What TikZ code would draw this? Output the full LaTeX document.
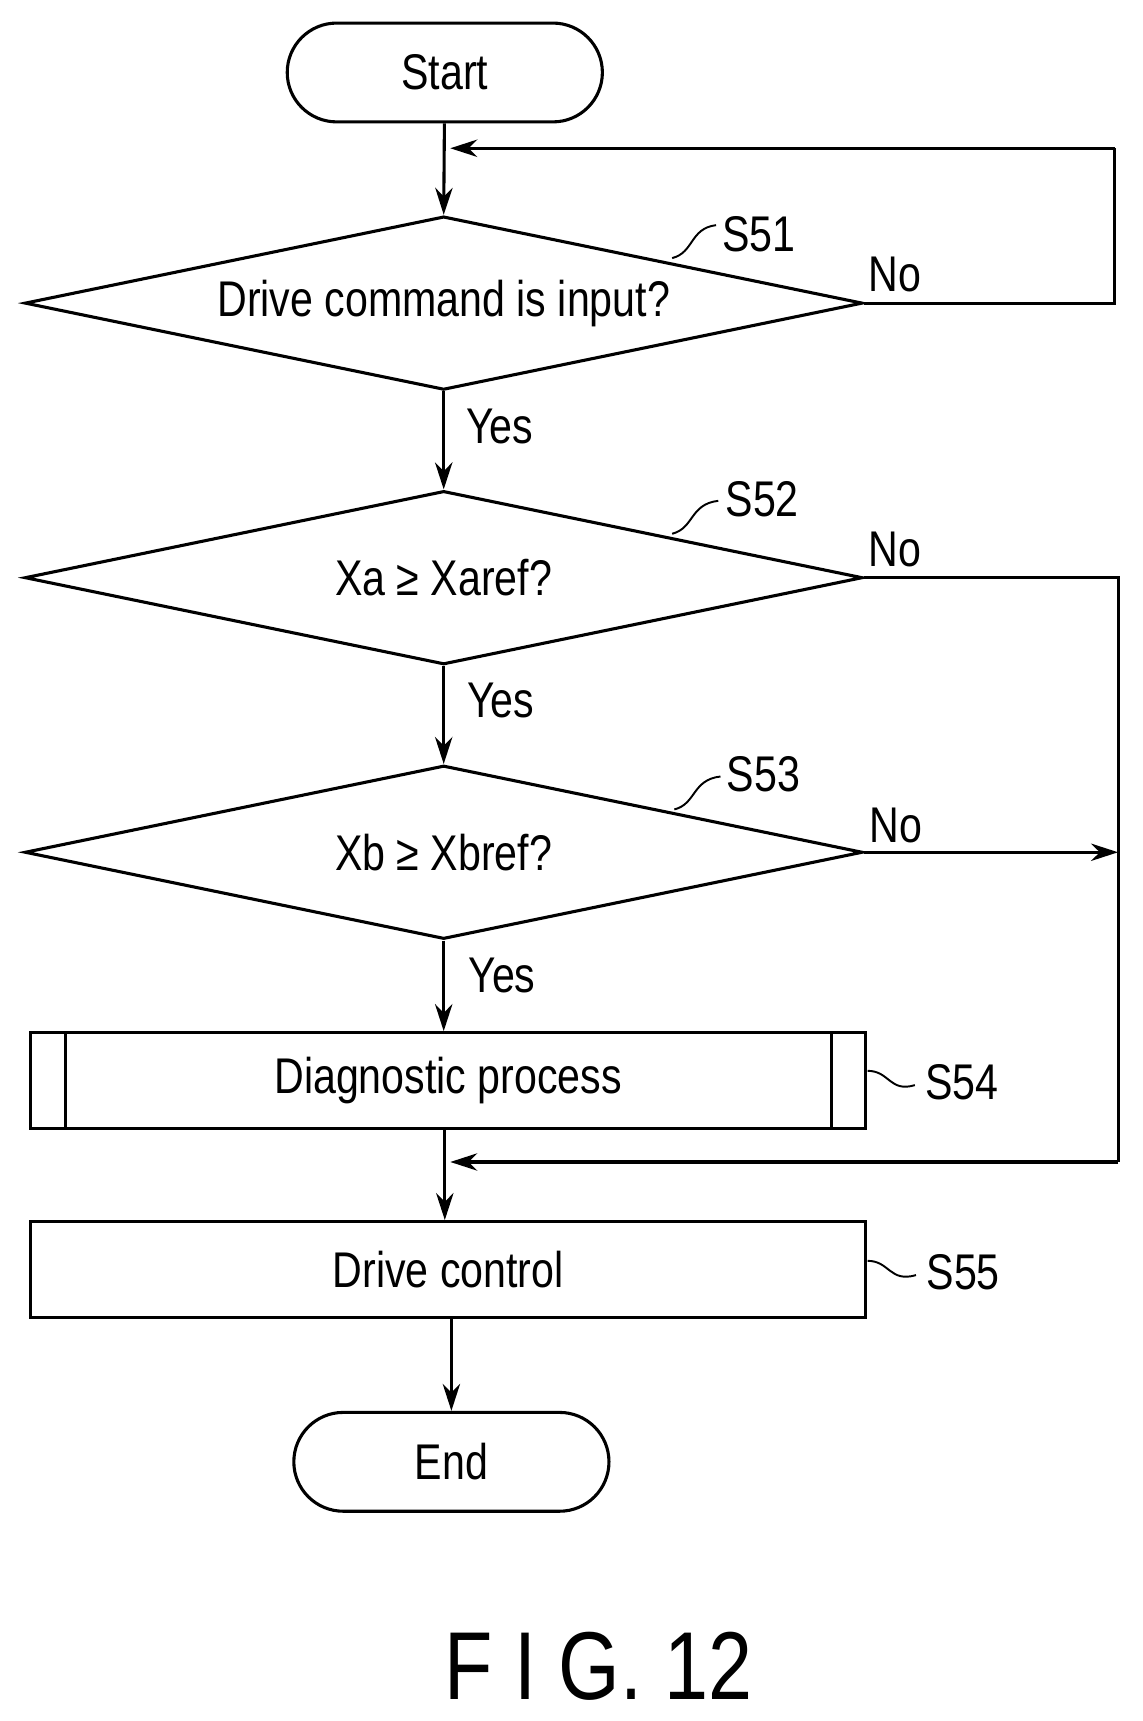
\documentclass[tikz,border=0pt]{standalone}
\usepackage{fontspec}
\setmainfont[FakeStretch=0.82]{Liberation Sans}
\usetikzlibrary{shapes.geometric,arrows.meta}
\begin{document}
\begin{tikzpicture}[x=0.02cm,y=-0.02cm,line width=1.6pt,
  every node/.style={font=\fontsize{26}{30}\selectfont},
  term/.style={draw,rounded corners=0.9cm,minimum width=5.74cm,minimum height=1.8cm,inner sep=0},
  dec/.style={draw,diamond,aspect=4.8,minimum width=15.26cm,minimum height=3.16cm,inner sep=0},
  proc/.style={draw,minimum width=15.2cm,minimum height=1.75cm,inner sep=0},
  arr/.style={-{Stealth[length=14pt,width=9pt]}},
  lbl/.style={inner sep=0}]
\useasboundingbox (0,0) rectangle (1040,1567);
\node[term] (start) at (405,66) {Start};
\node[dec] (d1) at (404,276) {Drive command is input?};
\node[dec] (d2) at (404,526) {Xa ≥ Xaref?};
\node[dec] (d3) at (404,776) {Xb ≥ Xbref?};
\node[proc] (p4) at (408,984) {Diagnostic process};
\draw (60,940) -- (60,1027) (757,940) -- (757,1027);
\node[proc] (p5) at (408,1156) {Drive control};
\node[term] (end) at (411,1331) {End};
\coordinate (c1) at (1015,135);
\coordinate (c1b) at (1015,276);
\coordinate (m1) at (405,135);
\coordinate (r2) at (1018,526);
\coordinate (r3) at (1018,776);
\coordinate (r4) at (1018,1058);
\coordinate (m2) at (405,1058);
\draw[arr] (start) -- (d1.north);
\draw (d1.east) -- (c1b) -- (c1);
\draw[arr] (c1) -- (410,135);
\draw[arr] (d1.south) -- (d2.north);
\draw[arr] (d2.south) -- (d3.north);
\draw[arr] (d3.south) -- (d3.south |- p4.north);
\draw (d2.east) -- (r2) -- (r4);
\draw[arr] (d3.east) -- (r3);
\draw[arr] (r4) -- (410,1058);
\draw[arr] (p4.south -| m2) -- (p5.north -| m2);
\draw[arr] (p5.south -| end) -- (end.north);
\node[lbl] (y1) at (455,388) {Yes};
\node[lbl] (y2) at (456,638) {Yes};
\node[lbl] (y3) at (457,888) {Yes};
\node[lbl] (n1) at (815,250) {No};
\node[lbl] (n2) at (815,500) {No};
\node[lbl] (n3) at (816,752) {No};
\node[lbl] (s51) at (691,213) {S51};
\node[lbl] (s52) at (694,455) {S52};
\node[lbl] (s53) at (695,705) {S53};
\node[lbl] (s54) at (876,985) {S54};
\node[lbl] (s55) at (877,1158) {S55};
\draw[line width=1pt] (612,235) .. controls (632,230) and (628,208) .. (652,205);
\draw[line width=1pt] (612,486) .. controls (632,481) and (628,459) .. (654,456);
\draw[line width=1pt] (614,737) .. controls (634,732) and (630,710) .. (656,707);
\draw[line width=1pt] (790,975) .. controls (810,975) and (810,995) .. (833,988);
\draw[line width=1pt] (790,1148) .. controls (810,1148) and (810,1168) .. (834,1161);
\node[lbl,font=\fontsize{50}{56}\selectfont] (fig) at (545,1517) {F I G. 12};
\end{tikzpicture}
\end{document}
